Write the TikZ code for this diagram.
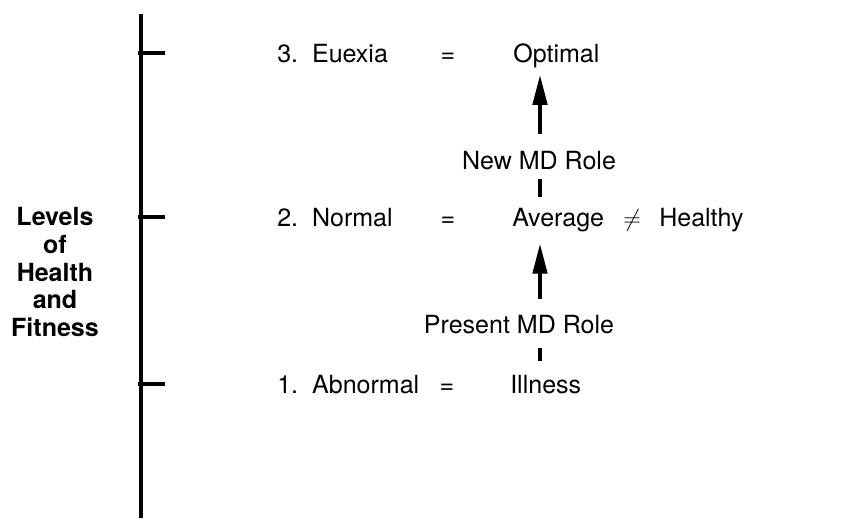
\documentclass[tikz,border=0pt]{standalone}
\usepackage{fontspec}
\setmainfont{TeX Gyre Heros}
\usetikzlibrary{arrows.meta,positioning,calc}

\begin{document}
\begin{tikzpicture}[
        txt/.style={font=\fontsize{17.8}{20}\selectfont, inner sep=0pt, anchor=base west},
        eq/.style={font=\fontsize{17.8}{20}\selectfont, inner sep=0pt, anchor=base},
        arrow/.style={-{Triangle[length=0.75cm, width=0.36cm]}, line width=2.6pt},
        link/.style={line width=2.6pt},
        axis/.style={line width=2.6pt}
    ]
        \useasboundingbox (0,0) rectangle (21.375,-12.95);

        % scale
        \draw[axis] (3.525,-0.35) -- (3.525,-12.95);
        \foreach \y in {-1.325,-5.425,-9.6} {
            \draw[axis] (3.45,\y) -- (4.125,\y);
        }
        \node[font=\fontsize{17.8}{19.9}\selectfont\bfseries, align=center, inner sep=0pt] (levels) at (1.375,-6.8)
            {Levels\\of\\Health\\and\\Fitness};

        % level 3
        \node[txt] (euexia) at (6.925,-1.55) {3.\ \ Euexia};
        \node[eq] (eq3) at (11.2,-1.55) {=};
        \node[txt] (optimal) at (12.825,-1.55) {Optimal};

        % level 2
        \node[txt] (normal) at (6.925,-5.65) {2.\ \ Normal};
        \node[eq] (eq2) at (11.2,-5.65) {=};
        \node[txt] (average) at (12.8,-5.65) {Average};
        \node[eq] (neq) at (15.8,-5.65) {$\neq$};
        \node[txt] (healthy) at (16.475,-5.65) {Healthy};

        % level 1
        \node[txt] (abnormal) at (6.925,-9.825) {1.\ \ Abnormal};
        \node[eq] (eq1) at (11.175,-9.825) {=};
        \node[txt] (illness) at (12.75,-9.825) {Illness};

        % roles
        \node[eq] (newrole) at (13.475,-4.225) {New MD Role};
        \node[eq] (present) at (12.975,-8.325) {Present MD Role};

        \draw[arrow, shorten <=0.4cm, shorten >=0.18cm] (newrole.north -| 13.5,0) -- (optimal.south -| 13.5,0);
        \draw[link, shorten <=0.225cm, shorten >=0.25cm] (newrole.south -| 13.5,0) -- (average.north -| 13.5,0);
        \draw[arrow, shorten <=0.375cm, shorten >=0.3cm] (present.north -| 13.5,0) -- (average.south -| 13.5,0);
        \draw[link, shorten <=0.35cm, shorten >=0.325cm] (present.south -| 13.5,0) -- (illness.north -| 13.5,0);
    \end{tikzpicture}
\end{document}
